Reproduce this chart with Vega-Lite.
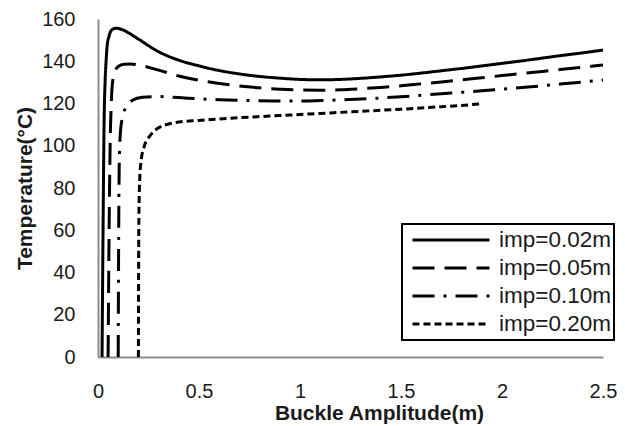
{
  "$schema": "https://vega.github.io/schema/vega-lite/v6.json",
  "width": 505,
  "height": 338,
  "autosize": {"type": "none"},
  "padding": {"left": 98, "top": 19, "right": 22, "bottom": 69},
  "background": "white",
  "config": {
    "view": {"stroke": null},
    "font": "Liberation Sans"
  },
  "data": {
    "values": [
      {"series": "imp=0.02m", "amp": 0.02, "temp": 0},
      {"series": "imp=0.02m", "amp": 0.025, "temp": 60},
      {"series": "imp=0.02m", "amp": 0.03, "temp": 110},
      {"series": "imp=0.02m", "amp": 0.035, "temp": 130},
      {"series": "imp=0.02m", "amp": 0.04, "temp": 140},
      {"series": "imp=0.02m", "amp": 0.045, "temp": 147},
      {"series": "imp=0.02m", "amp": 0.055, "temp": 152},
      {"series": "imp=0.02m", "amp": 0.07, "temp": 155},
      {"series": "imp=0.02m", "amp": 0.09, "temp": 155.6},
      {"series": "imp=0.02m", "amp": 0.12, "temp": 155},
      {"series": "imp=0.02m", "amp": 0.15, "temp": 153.5},
      {"series": "imp=0.02m", "amp": 0.2, "temp": 150.5},
      {"series": "imp=0.02m", "amp": 0.3, "temp": 144.5},
      {"series": "imp=0.02m", "amp": 0.4, "temp": 140.5},
      {"series": "imp=0.02m", "amp": 0.5, "temp": 137.8},
      {"series": "imp=0.02m", "amp": 0.6, "temp": 135.6},
      {"series": "imp=0.02m", "amp": 0.7, "temp": 134},
      {"series": "imp=0.02m", "amp": 0.8, "temp": 132.8},
      {"series": "imp=0.02m", "amp": 0.9, "temp": 132},
      {"series": "imp=0.02m", "amp": 1.0, "temp": 131.4},
      {"series": "imp=0.02m", "amp": 1.1, "temp": 131.2},
      {"series": "imp=0.02m", "amp": 1.2, "temp": 131.4},
      {"series": "imp=0.02m", "amp": 1.3, "temp": 131.9},
      {"series": "imp=0.02m", "amp": 1.4, "temp": 132.6},
      {"series": "imp=0.02m", "amp": 1.5, "temp": 133.4},
      {"series": "imp=0.02m", "amp": 1.6, "temp": 134.4},
      {"series": "imp=0.02m", "amp": 1.7, "temp": 135.5},
      {"series": "imp=0.02m", "amp": 1.8, "temp": 136.6},
      {"series": "imp=0.02m", "amp": 1.9, "temp": 137.8},
      {"series": "imp=0.02m", "amp": 2.0, "temp": 139},
      {"series": "imp=0.02m", "amp": 2.1, "temp": 140.2},
      {"series": "imp=0.02m", "amp": 2.2, "temp": 141.5},
      {"series": "imp=0.02m", "amp": 2.3, "temp": 142.8},
      {"series": "imp=0.02m", "amp": 2.4, "temp": 144},
      {"series": "imp=0.02m", "amp": 2.5, "temp": 145.3},

      {"series": "imp=0.05m", "amp": 0.05, "temp": 0},
      {"series": "imp=0.05m", "amp": 0.055, "temp": 60},
      {"series": "imp=0.05m", "amp": 0.06, "temp": 100},
      {"series": "imp=0.05m", "amp": 0.065, "temp": 118},
      {"series": "imp=0.05m", "amp": 0.07, "temp": 128},
      {"series": "imp=0.05m", "amp": 0.08, "temp": 134},
      {"series": "imp=0.05m", "amp": 0.1, "temp": 137.5},
      {"series": "imp=0.05m", "amp": 0.13, "temp": 138.6},
      {"series": "imp=0.05m", "amp": 0.16, "temp": 138.7},
      {"series": "imp=0.05m", "amp": 0.2, "temp": 138.2},
      {"series": "imp=0.05m", "amp": 0.3, "temp": 135.8},
      {"series": "imp=0.05m", "amp": 0.4, "temp": 133},
      {"series": "imp=0.05m", "amp": 0.5, "temp": 131},
      {"series": "imp=0.05m", "amp": 0.6, "temp": 129.5},
      {"series": "imp=0.05m", "amp": 0.7, "temp": 128.3},
      {"series": "imp=0.05m", "amp": 0.8, "temp": 127.4},
      {"series": "imp=0.05m", "amp": 0.9, "temp": 126.8},
      {"series": "imp=0.05m", "amp": 1.0, "temp": 126.4},
      {"series": "imp=0.05m", "amp": 1.1, "temp": 126.3},
      {"series": "imp=0.05m", "amp": 1.2, "temp": 126.5},
      {"series": "imp=0.05m", "amp": 1.3, "temp": 127},
      {"series": "imp=0.05m", "amp": 1.4, "temp": 127.6},
      {"series": "imp=0.05m", "amp": 1.5, "temp": 128.4},
      {"series": "imp=0.05m", "amp": 1.6, "temp": 129.3},
      {"series": "imp=0.05m", "amp": 1.7, "temp": 130.2},
      {"series": "imp=0.05m", "amp": 1.8, "temp": 131.2},
      {"series": "imp=0.05m", "amp": 1.9, "temp": 132.2},
      {"series": "imp=0.05m", "amp": 2.0, "temp": 133.2},
      {"series": "imp=0.05m", "amp": 2.1, "temp": 134.2},
      {"series": "imp=0.05m", "amp": 2.2, "temp": 135.2},
      {"series": "imp=0.05m", "amp": 2.3, "temp": 136.2},
      {"series": "imp=0.05m", "amp": 2.4, "temp": 137.2},
      {"series": "imp=0.05m", "amp": 2.5, "temp": 138.2},

      {"series": "imp=0.10m", "amp": 0.1, "temp": 0},
      {"series": "imp=0.10m", "amp": 0.102, "temp": 50},
      {"series": "imp=0.10m", "amp": 0.105, "temp": 90},
      {"series": "imp=0.10m", "amp": 0.11, "temp": 105},
      {"series": "imp=0.10m", "amp": 0.12, "temp": 113},
      {"series": "imp=0.10m", "amp": 0.14, "temp": 118.5},
      {"series": "imp=0.10m", "amp": 0.17, "temp": 121.5},
      {"series": "imp=0.10m", "amp": 0.22, "temp": 123},
      {"series": "imp=0.10m", "amp": 0.3, "temp": 123.3},
      {"series": "imp=0.10m", "amp": 0.4, "temp": 122.8},
      {"series": "imp=0.10m", "amp": 0.5, "temp": 122.2},
      {"series": "imp=0.10m", "amp": 0.6, "temp": 121.8},
      {"series": "imp=0.10m", "amp": 0.7, "temp": 121.5},
      {"series": "imp=0.10m", "amp": 0.8, "temp": 121.3},
      {"series": "imp=0.10m", "amp": 0.9, "temp": 121.2},
      {"series": "imp=0.10m", "amp": 1.0, "temp": 121.2},
      {"series": "imp=0.10m", "amp": 1.1, "temp": 121.4},
      {"series": "imp=0.10m", "amp": 1.2, "temp": 121.7},
      {"series": "imp=0.10m", "amp": 1.3, "temp": 122.1},
      {"series": "imp=0.10m", "amp": 1.4, "temp": 122.6},
      {"series": "imp=0.10m", "amp": 1.5, "temp": 123.2},
      {"series": "imp=0.10m", "amp": 1.6, "temp": 123.9},
      {"series": "imp=0.10m", "amp": 1.7, "temp": 124.6},
      {"series": "imp=0.10m", "amp": 1.8, "temp": 125.3},
      {"series": "imp=0.10m", "amp": 1.9, "temp": 126},
      {"series": "imp=0.10m", "amp": 2.0, "temp": 126.8},
      {"series": "imp=0.10m", "amp": 2.1, "temp": 127.6},
      {"series": "imp=0.10m", "amp": 2.2, "temp": 128.4},
      {"series": "imp=0.10m", "amp": 2.3, "temp": 129.3},
      {"series": "imp=0.10m", "amp": 2.4, "temp": 130.2},
      {"series": "imp=0.10m", "amp": 2.5, "temp": 131.1},

      {"series": "imp=0.20m", "amp": 0.2, "temp": 0},
      {"series": "imp=0.20m", "amp": 0.201, "temp": 40},
      {"series": "imp=0.20m", "amp": 0.203, "temp": 70},
      {"series": "imp=0.20m", "amp": 0.207, "temp": 85},
      {"series": "imp=0.20m", "amp": 0.215, "temp": 94},
      {"series": "imp=0.20m", "amp": 0.23, "temp": 100},
      {"series": "imp=0.20m", "amp": 0.26, "temp": 105},
      {"series": "imp=0.20m", "amp": 0.3, "temp": 108.5},
      {"series": "imp=0.20m", "amp": 0.35, "temp": 110.3},
      {"series": "imp=0.20m", "amp": 0.4, "temp": 111.2},
      {"series": "imp=0.20m", "amp": 0.5, "temp": 112},
      {"series": "imp=0.20m", "amp": 0.6, "temp": 112.7},
      {"series": "imp=0.20m", "amp": 0.7, "temp": 113.3},
      {"series": "imp=0.20m", "amp": 0.8, "temp": 113.8},
      {"series": "imp=0.20m", "amp": 0.9, "temp": 114.3},
      {"series": "imp=0.20m", "amp": 1.0, "temp": 114.8},
      {"series": "imp=0.20m", "amp": 1.1, "temp": 115.3},
      {"series": "imp=0.20m", "amp": 1.2, "temp": 115.8},
      {"series": "imp=0.20m", "amp": 1.3, "temp": 116.3},
      {"series": "imp=0.20m", "amp": 1.4, "temp": 116.8},
      {"series": "imp=0.20m", "amp": 1.5, "temp": 117.3},
      {"series": "imp=0.20m", "amp": 1.6, "temp": 117.9},
      {"series": "imp=0.20m", "amp": 1.7, "temp": 118.5},
      {"series": "imp=0.20m", "amp": 1.8, "temp": 119.1},
      {"series": "imp=0.20m", "amp": 1.89, "temp": 119.8}
    ]
  },
  "mark": {"type": "line", "color": "black", "strokeWidth": 3, "interpolate": "monotone", "clip": false},
  "encoding": {
    "x": {
      "field": "amp",
      "type": "quantitative",
      "scale": {"domain": [0, 2.5], "nice": false, "zero": true},
      "axis": {
        "title": "Buckle Amplitude(m)",
        "values": [0, 0.5, 1, 1.5, 2, 2.5],
        "format": "~r",
        "grid": false,
        "ticks": false,
        "tickSize": 0,
        "domainColor": "#8c8c8c",
        "domainWidth": 2,
        "labelFont": "Liberation Sans",
        "labelFontSize": 20,
        "labelColor": "#1a1a1a",
        "labelPadding": 24,
        "labelFlush": false,
        "titleFont": "Liberation Sans",
        "titleFontSize": 21,
        "titleFontWeight": "bold",
        "titleColor": "#1a1a1a",
        "titleX": 281,
        "titleY": 56,
        "titleBaseline": "middle"
      }
    },
    "y": {
      "field": "temp",
      "type": "quantitative",
      "scale": {"domain": [0, 160], "nice": false},
      "axis": {
        "title": "Temperature(°C)",
        "values": [0, 20, 40, 60, 80, 100, 120, 140, 160],
        "grid": false,
        "ticks": false,
        "tickSize": 0,
        "domainColor": "#8c8c8c",
        "domainWidth": 2,
        "labelFont": "Liberation Sans",
        "labelFontSize": 20,
        "labelColor": "#1a1a1a",
        "labelPadding": 23,
        "labelFlush": false,
        "titleFont": "Liberation Sans",
        "titleFontSize": 21,
        "titleFontWeight": "bold",
        "titleColor": "#1a1a1a",
        "titleX": -73,
        "titleY": 169,
        "titleAngle": -90,
        "titleBaseline": "middle",
        "titleAlign": "center"
      }
    },
    "strokeDash": {
      "field": "series",
      "type": "nominal",
      "scale": {
        "domain": ["imp=0.02m", "imp=0.05m", "imp=0.10m", "imp=0.20m"],
        "range": [[1, 0], [22, 10], [22, 9, 3, 9], [7, 4]]
      },
      "legend": {
        "title": null,
        "orient": "none",
        "legendX": 304,
        "legendY": 205,
        "symbolType": "stroke",
        "symbolSize": 5929,
        "symbolStrokeWidth": 3,
        "symbolStrokeColor": "black",
        "symbolOffset": 6,
        "clipHeight": 26,
        "labelFont": "Liberation Sans",
        "labelFontSize": 22.5,
        "labelColor": "#1a1a1a",
        "labelOffset": 8,
        "strokeColor": "black",
        "padding": 3,
        "rowPadding": 2,
        "encode": {"legend": {"update": {"strokeWidth": {"value": 2}}}}
      }
    },
    "order": {"field": "amp", "type": "quantitative"}
  }
}
